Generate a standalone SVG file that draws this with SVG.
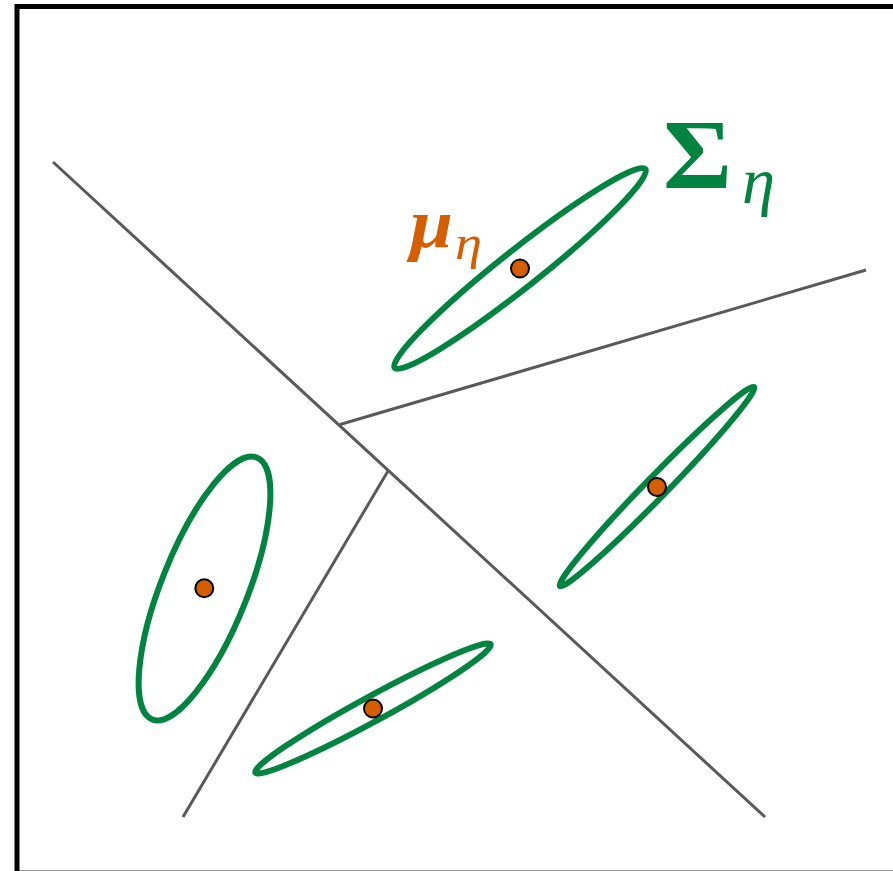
<svg xmlns="http://www.w3.org/2000/svg" width="893" height="871" viewBox="0 0 893 871">
<style>
.frame{fill:none;stroke:#000;stroke-width:5}
.bound{stroke:#595959;stroke-width:3;fill:none;stroke-linecap:butt}
.cov{fill:none;stroke:#00843f;stroke-width:6}
.mean{fill:#d55e00;stroke:#000;stroke-width:2}
.lbl{font-family:"Liberation Serif","DejaVu Serif",serif}
</style>
<rect width="893" height="871" fill="#fff"/>
<rect class="frame" x="17" y="6.5" width="920" height="866.6"/>
<g id="connectors">
<line class="bound" x1="53" y1="162" x2="765" y2="817"/>
<line class="bound" x1="340" y1="424.5" x2="866" y2="270"/>
<line class="bound" x1="388" y1="471" x2="183" y2="817"/>
</g>
<g id="cluster-top">
<ellipse class="cov" cx="520" cy="268.5" rx="160" ry="19" transform="rotate(-38.4 520 268.5)"/>
<circle class="mean" cx="520" cy="268.5" r="9"/>
</g>
<g id="cluster-right">
<ellipse class="cov" cx="657" cy="486.5" rx="139" ry="10.5" transform="rotate(-45.7 657 486.5)"/>
<circle class="mean" cx="657" cy="487" r="9"/>
</g>
<g id="cluster-left">
<ellipse class="cov" cx="204.5" cy="588.5" rx="141" ry="43" transform="rotate(-68.2 204.5 588.5)"/>
<circle class="mean" cx="204.3" cy="588.3" r="9"/>
</g>
<g id="cluster-bottom">
<ellipse class="cov" cx="373" cy="708.5" rx="134" ry="12.5" transform="rotate(-28.6 373 708.5)"/>
<circle class="mean" cx="373" cy="708.5" r="9"/>
</g>
<g id="label-mu" class="lbl" fill="#d55e00">
<text x="410" y="247" font-size="70" font-weight="bold" font-style="italic" textLength="43" lengthAdjust="spacingAndGlyphs">μ</text>
<text x="455" y="259" font-size="48" font-style="italic" textLength="27" lengthAdjust="spacingAndGlyphs">η</text>
</g>
<g id="label-sigma" class="lbl" fill="#00843f">
<text x="663" y="188" font-size="99" font-weight="bold" textLength="69" lengthAdjust="spacingAndGlyphs">Σ</text>
<text x="742" y="203" font-size="66" font-style="italic" textLength="33" lengthAdjust="spacingAndGlyphs">η</text>
</g>
</svg>
